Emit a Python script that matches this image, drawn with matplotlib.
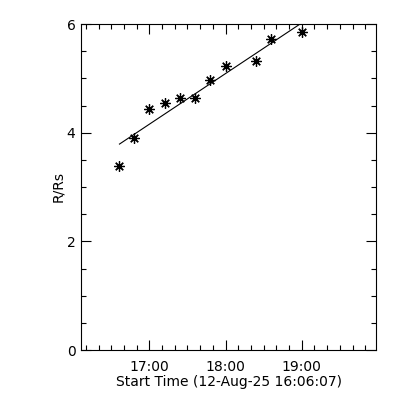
import numpy as np
import matplotlib.pyplot as plt
from matplotlib.ticker import MultipleLocator, FixedLocator

# observation times, decimal hours (UT)
times = [16.607, 16.80, 17.00, 17.20, 17.40, 17.60, 17.80, 18.00, 18.40, 18.60, 19.00]
# height, R/Rs
heights = [3.39, 3.91, 4.43, 4.55, 4.63, 4.63, 4.97, 5.23, 5.32, 5.72, 5.85]
# linear fit drawn over the data span
fit_times = [16.607, 19.00]
fit_heights = [3.79, 6.02]

x_start = 16 + 6 / 60 + 7 / 3600
x_end = 19.975
major_ticks = [17, 18, 19]
major_labels = ['17:00', '18:00', '19:00']

fig = plt.figure(figsize=(4, 4), dpi=100)
ax = fig.add_axes([0.2025, 0.125, 0.7375, 0.815])

ax.plot(fit_times, fit_heights, color='black', lw=0.8, clip_on=True)
ax.plot(times, heights, linestyle='none', marker=(8, 2, 0), ms=7.5,
        mec='black', mew=0.9, color='black')

ax.set_xlim(x_start, x_end)
ax.set_ylim(0, 6)

ax.xaxis.set_major_locator(FixedLocator(major_ticks))
ax.set_xticklabels(major_labels)
ax.xaxis.set_minor_locator(MultipleLocator(1 / 6))
ax.yaxis.set_major_locator(MultipleLocator(2))
ax.yaxis.set_minor_locator(MultipleLocator(0.5))

ax.tick_params(which='both', direction='in', top=True, right=True,
               width=0.8, labelsize=10, colors='black')
ax.tick_params(which='major', length=7)
ax.tick_params(which='minor', length=3.5)
ax.tick_params(axis='x', which='major', pad=7)
ax.tick_params(axis='y', which='major', pad=4)
for s in ax.spines.values():
    s.set_linewidth(0.8)

ax.set_xlabel('Start Time (12-Aug-25 16:06:07)', fontsize=10, labelpad=1)
ax.set_ylabel('R/Rs', fontsize=10, labelpad=1)

fig.savefig('out.png', dpi=100)
